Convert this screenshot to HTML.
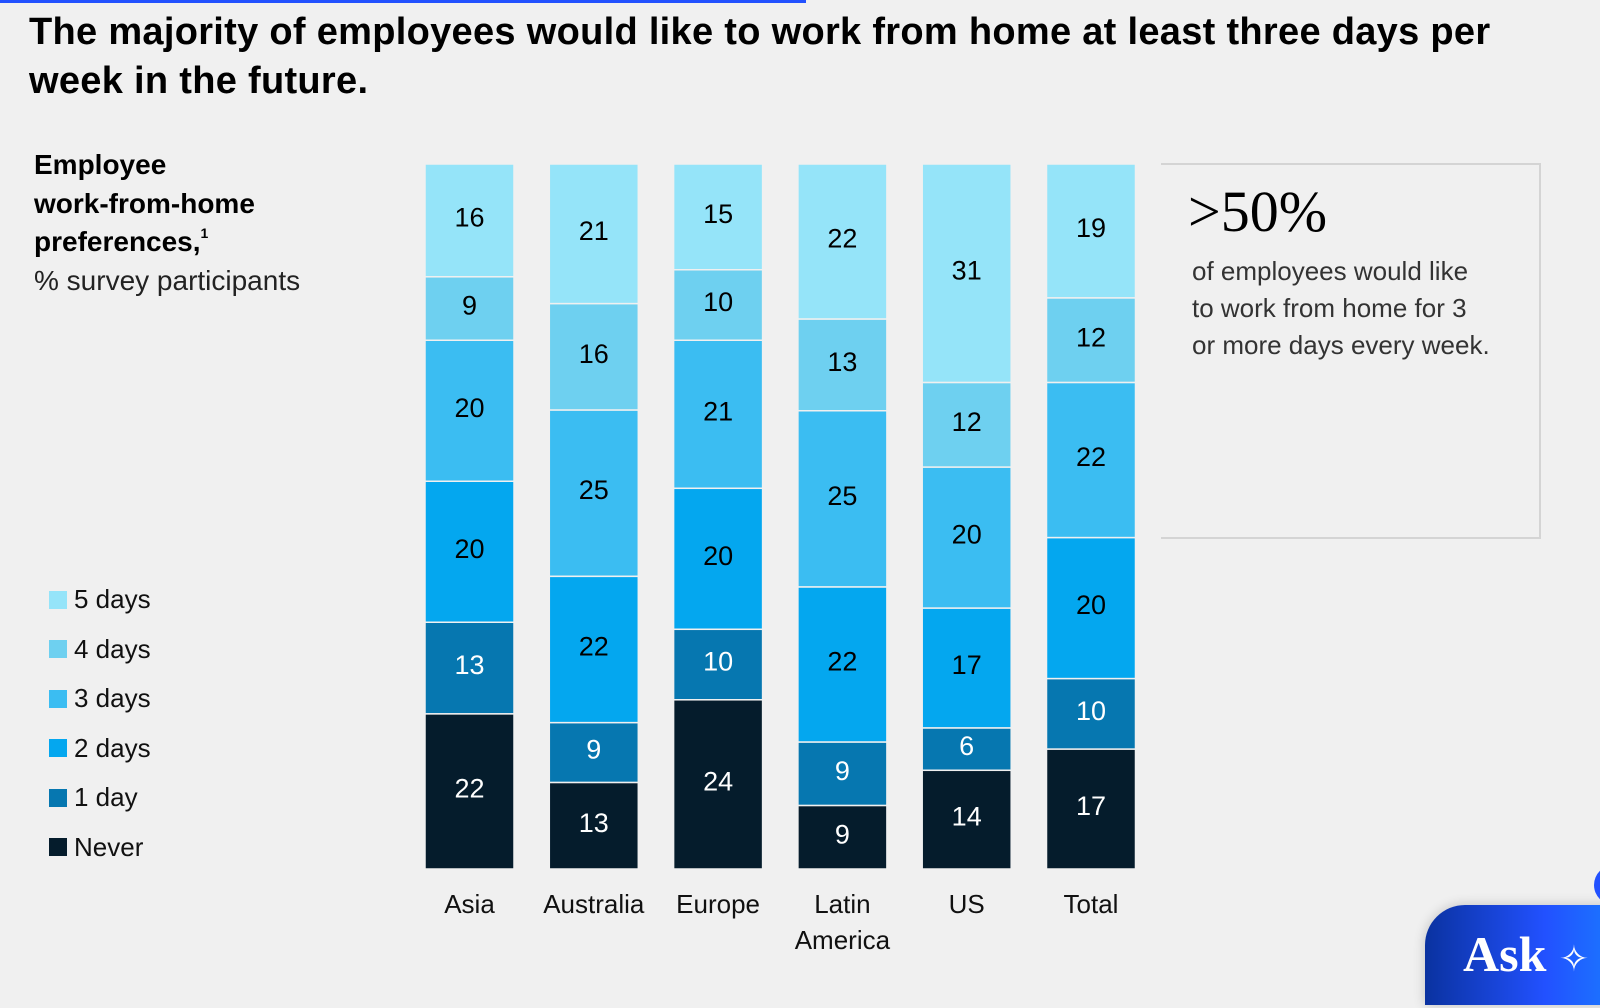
<!DOCTYPE html>
<html><head><meta charset="utf-8"><style>
body{margin:0;width:1600px;height:981px;background:#f0f0f0;overflow:hidden;position:relative;font-family:"Liberation Sans",sans-serif;}
.abs{position:absolute}
</style></head><body>
<div class="abs" style="left:0;top:0;width:806px;height:3px;background:#2251ff"></div>
<div class="abs" style="left:29px;top:8px;width:1560px;font-size:38px;font-weight:bold;line-height:49px;color:#000;letter-spacing:0.3px">The majority of employees would like to work from home at least three days per week in the future.</div>
<div class="abs" style="left:34px;top:146px;font-size:28px;line-height:38.5px;color:#000"><b>Employee<br>work-from-home<br>preferences,<span style="font-size:14px;vertical-align:top;line-height:20px">1</span></b><br><span style="color:#222">% survey participants</span></div>
<div id="legend" class="abs" style="left:49px;top:575px"></div>
<svg id="chart" class="abs" style="left:0;top:0" width="1600" height="981"></svg>
<div class="abs" style="left:1161px;top:163px;width:380px;height:376px;border:2px solid #d4d4d4;border-left:none;box-sizing:border-box"></div>
<div class="abs" style="left:1188px;top:178px;font-family:'Liberation Serif',serif;font-size:58px;color:#000">&gt;50%</div>
<div class="abs" style="left:1192px;top:253px;font-size:26px;line-height:37px;color:#333">of employees would like<br>to work from home for 3<br>or more days every week.</div>
<div class="abs" style="left:1425px;top:905px;width:200px;height:100px;border-radius:40px 0 0 0;background:linear-gradient(90deg,#0a32a0,#2251ff 60%,#1a7cff);box-shadow:0 0 12px rgba(0,0,0,0.2);color:#fff;font-family:'Liberation Serif',serif;font-weight:bold;font-size:50px;padding-left:38px;box-sizing:border-box;line-height:98px">Ask <span style="font-size:36px;font-weight:normal">✧</span></div>
<div class="abs" style="left:1594px;top:865px;width:40px;height:40px;border-radius:50%;background:#2251ff"></div>
<script>
const categories=["Asia","Australia","Europe","Latin America","US","Total"];
const seriesNames=["5 days","4 days","3 days","2 days","1 day","Never"];
const days5=[16,21,15,22,31,19];
const days4=[9,16,10,13,12,12];
const days3=[20,25,21,25,20,22];
const days2=[20,22,20,22,17,20];
const day1=[13,9,10,9,6,10];
const never=[22,13,24,9,14,17];
const series=[days5,days4,days3,days2,day1,never];
const colors=["#95e4f9","#6ed0f0","#3bbdf2","#04a7ef","#0677b0","#051c2c"];
const NS="http://www.w3.org/2000/svg";
const svg=document.getElementById('chart');
const top0=164,bottom0=869,x0=425,step=124.3,bw=89;
const xPos=i=>x0+i*step;
categories.forEach((c,i)=>{
  let tot=0;series.forEach(s=>tot+=s[i]);
  const sc=v=>v/tot*(bottom0-top0);
  let y=top0;
  series.forEach((s,k)=>{
    const h=sc(s[i]);
    const r=document.createElementNS(NS,'rect');
    r.setAttribute('x',xPos(i));r.setAttribute('y',y);r.setAttribute('width',bw);r.setAttribute('height',h);
    r.setAttribute('fill',colors[k]);r.setAttribute('stroke','#f0f0f0');r.setAttribute('stroke-width','1.5');
    
    
    svg.appendChild(r);
    const t=document.createElementNS(NS,'text');
    t.setAttribute('x',xPos(i)+bw/2);t.setAttribute('y',y+h/2+6);t.setAttribute('text-anchor','middle');
    t.setAttribute('font-size','27');t.setAttribute('font-family','Liberation Sans, sans-serif');
    t.setAttribute('fill',k>=4?'#fff':'#000');t.textContent=s[i];
    
    
    svg.appendChild(t);
    y+=h;
  });
  const words=c.split(' ');
  words.forEach((w,j)=>{
    const t=document.createElementNS(NS,'text');
    t.setAttribute('x',xPos(i)+bw/2);t.setAttribute('y',913+j*36);t.setAttribute('text-anchor','middle');
    t.setAttribute('font-size','26');t.setAttribute('font-family','Liberation Sans, sans-serif');t.setAttribute('fill','#111');
    t.textContent=w;
    
    
    svg.appendChild(t);
  });
});
const lg=document.getElementById('legend');
seriesNames.forEach((n,k)=>{
  const d=document.createElement('div');
  
  
  d.style.cssText='height:49.5px;display:flex;align-items:center;font-size:26px;color:#111';
  d.innerHTML='<span style="display:inline-block;width:18px;height:18px;background:'+colors[k]+';margin-right:7px"></span>'+n;
  lg.appendChild(d);
});
</script>
</body></html>
